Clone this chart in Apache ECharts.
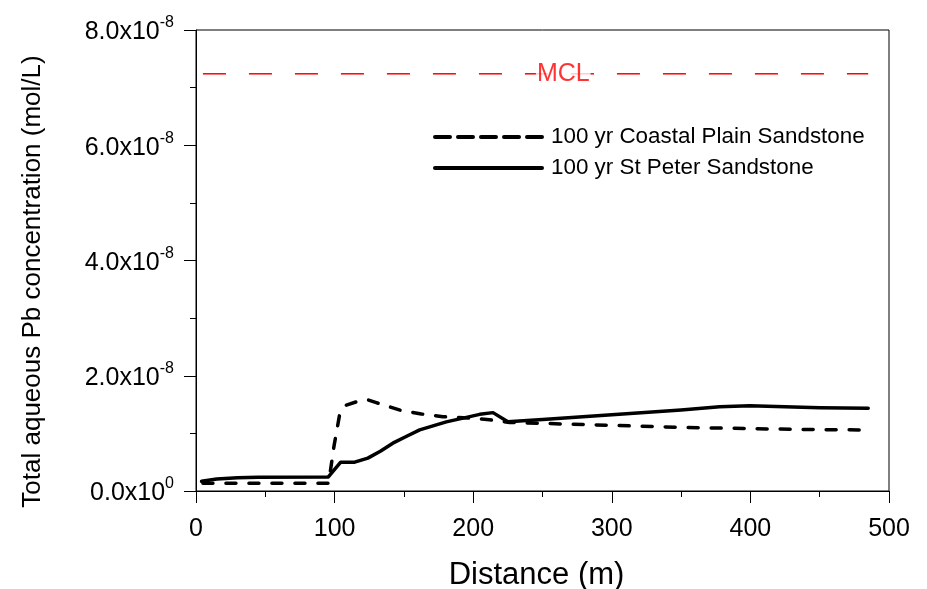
<!DOCTYPE html>
<html>
<head>
<meta charset="utf-8">
<script src="https://cdn.jsdelivr.net/npm/echarts@6/dist/echarts.min.js"></script>
<style>html,body{margin:0;padding:0;background:#fff;}#c{width:927px;height:589px;}</style>
</head>
<body>
<div id="c"></div>
<script>
// Distance (m)
var coastalX = [5, 95.7, 99.5, 103.8, 108.5, 116, 124.1, 130.1, 147.5, 162.6, 178.2, 196.3, 211.9, 226.3, 264.8, 298.5, 349, 399.5, 450, 484];
// Total aqueous Pb (mol/L)
var coastalY = [1.34e-9, 1.34e-9, 7.7e-9, 1.35e-8, 1.49e-8, 1.55e-8, 1.58e-8, 1.533e-8, 1.40e-8, 1.337e-8, 1.29e-8, 1.267e-8, 1.238e-8, 1.19e-8, 1.163e-8, 1.14e-8, 1.105e-8, 1.082e-8, 1.064e-8, 1.059e-8];

var stPeterX = [4, 15, 30, 45, 95.5, 104.4, 114.5, 124, 133, 142, 152, 161.4, 171, 180.6, 197.5, 204.7, 214.3, 225, 252.8, 300, 350, 377.8, 399.5, 450, 485];
var stPeterY = [1.7e-9, 2.1e-9, 2.3e-9, 2.4e-9, 2.45e-9, 5.0e-9, 5.0e-9, 5.7e-9, 6.9e-9, 8.3e-9, 9.5e-9, 1.06e-8, 1.13e-8, 1.20e-8, 1.29e-8, 1.33e-8, 1.36e-8, 1.20e-8, 1.245e-8, 1.325e-8, 1.406e-8, 1.464e-8, 1.48e-8, 1.446e-8, 1.435e-8];

var mclValue = 7.24e-8;
var mclX = [5, 485];
var mclLabelX = 265;

var seriesNames = ['100 yr Coastal Plain Sandstone', '100 yr St Peter Sandstone'];
var yTickMantissa = ['0.0', '2.0', '4.0', '6.0', '8.0'];
var yTickExponent = ['0', '-8', '-8', '-8', '-8'];

function pairs(xs, ys) { return xs.map(function (x, i) { return [x, ys[i]]; }); }

var FONT = '"Liberation Sans", Arial, sans-serif';
var chart = echarts.init(document.getElementById('c'), null, { renderer: 'canvas' });
chart.setOption({
  animation: false,
  backgroundColor: '#fff',
  textStyle: { fontFamily: FONT, color: '#000' },
  grid: { left: 196, right: 38, top: 30, bottom: 98, show: true, borderColor: '#000', borderWidth: 1, backgroundColor: 'transparent', containLabel: false, outerBoundsMode: 'none' },
  legend: {
    orient: 'vertical', left: 428, top: 121,
    itemWidth: 107, itemHeight: 20, itemGap: 9,
    itemStyle: { opacity: 0, color: 'rgba(0,0,0,0)', borderWidth: 0 },
    data: [
      { name: seriesNames[0], lineStyle: { type: [15, 8], width: 4 } },
      { name: seriesNames[1], lineStyle: { width: 4 } }
    ],
    textStyle: { fontFamily: FONT, fontSize: 22.4, lineHeight: 20, color: '#000', padding: [0, 0, 0, 4] },
    selectedMode: false
  },
  xAxis: {
    type: 'value', min: 0, max: 500, interval: 100,
    name: 'Distance (m)', nameLocation: 'middle', nameGap: 69,
    nameTextStyle: { fontFamily: FONT, fontSize: 31, color: '#000', padding: [0, 12, 0, 0] },
    axisLine: { show: true, onZero: false, lineStyle: { color: '#000', width: 1 } },
    axisTick: { show: true, inside: false, length: 12, lineStyle: { color: '#000', width: 1 } },
    minorTick: { show: true, splitNumber: 2, length: 6, lineStyle: { color: '#000', width: 1 } },
    splitLine: { show: false },
    axisLabel: { fontFamily: FONT, fontSize: 25, color: '#000', margin: 26 }
  },
  yAxis: {
    type: 'value', min: 0, max: 8e-8, interval: 2e-8,
    name: 'Total aqueous Pb concentration (mol/L)', nameLocation: 'middle', nameGap: 150, nameRotate: 90,
    nameTextStyle: { fontFamily: FONT, fontSize: 26, color: '#000', padding: [0, 42, 0, 0] },
    axisLine: { show: true, onZero: false, lineStyle: { color: '#000', width: 1 } },
    axisTick: { show: true, inside: false, length: 12, lineStyle: { color: '#000', width: 1 } },
    minorTick: { show: true, splitNumber: 2, length: 6, lineStyle: { color: '#000', width: 1 } },
    splitLine: { show: false },
    axisLabel: {
      margin: 22,
      formatter: function (v, i) {
        return '{b|' + yTickMantissa[i] + 'x10}{s|' + yTickExponent[i] + '}';
      },
      rich: {
        b: { fontFamily: FONT, fontSize: 25, color: '#000', lineHeight: 30, verticalAlign: 'bottom' },
        s: { fontFamily: FONT, fontSize: 16, color: '#000', lineHeight: 30, verticalAlign: 'top', padding: [0, 0, 0, 0] }
      }
    }
  },
  series: [
    {
      name: seriesNames[0], type: 'line', symbol: 'none', smooth: false,
      data: pairs(coastalX, coastalY),
      lineStyle: { color: '#000', width: 3.5, type: [10, 13], cap: 'round', join: 'round' },
      itemStyle: { color: '#000' }, z: 3
    },
    {
      name: seriesNames[1], type: 'line', symbol: 'none', smooth: false,
      data: pairs(stPeterX, stPeterY),
      lineStyle: { color: '#000', width: 3.5, type: 'solid', cap: 'round', join: 'round' },
      itemStyle: { color: '#000' }, z: 4
    },
    {
      name: 'MCL', type: 'line', symbol: 'none',
      data: mclX.map(function (x) { return [x, mclValue]; }),
      lineStyle: { color: '#ff0000', width: 1.5, type: [23, 23], opacity: 1 },
      itemStyle: { color: '#ff0000' }, z: 2
    },
    {
      name: 'MCL label', type: 'scatter', symbolSize: 1, itemStyle: { color: 'rgba(0,0,0,0)' },
      data: [[mclLabelX, mclValue]],
      label: { show: true, position: 'inside', formatter: 'MCL', fontFamily: FONT, fontSize: 25, color: '#ff0000', backgroundColor: '#fff', padding: [0, 1, 0, 1] },
      z: 5, silent: true
    }
  ]
});
</script>
</body>
</html>
